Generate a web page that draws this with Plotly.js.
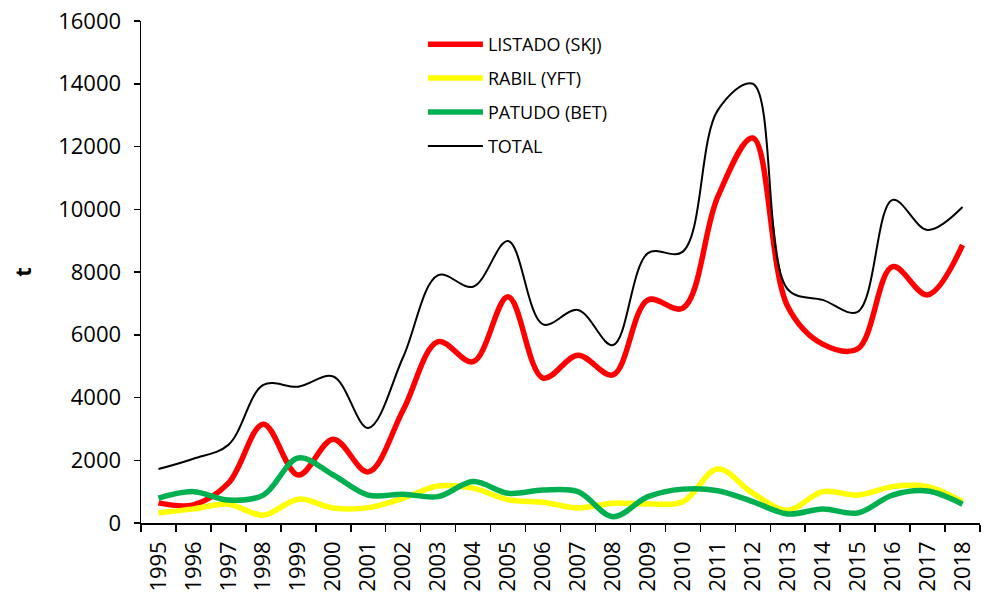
<!DOCTYPE html>
<html>
<head>
<meta charset="utf-8">
<script src="https://cdn.plot.ly/plotly-3.0.1.min.js"></script>
<style>body{margin:0;background:#fff}#chart{width:986px;height:596px}</style>
</head>
<body>
<div id="chart"></div>
<script>
const years = ["1995","1996","1997","1998","1999","2000","2001","2002","2003","2004","2005","2006","2007","2008","2009","2010","2011","2012","2013","2014","2015","2016","2017","2018"];
const listado = [640,580,1270,3150,1530,2670,1630,3600,5780,5140,7210,4620,5350,4720,7110,6850,10400,12270,6900,5700,5550,8170,7270,8860];
const rabil   = [320,450,600,250,760,480,490,790,1180,1110,740,660,480,630,610,680,1720,950,410,1000,890,1160,1160,680];
const patudo  = [790,1000,730,890,2070,1530,890,920,840,1320,950,1050,1000,200,840,1080,1030,680,290,450,320,890,1020,600];
const total   = [1720,2050,2490,4400,4345,4670,3030,5290,7900,7530,8990,6330,6790,5670,8600,8650,13160,14000,7450,7110,6730,10300,9340,10070];
const yTicks = [0,2000,4000,6000,8000,10000,12000,14000,16000];

const font = "Open Sans, Noto Sans, sans-serif";
const mk = (name, y, color, width) => ({
  x: years, y: y, name: name, legendgroup: name, type: "scatter", mode: "lines",
  line: {color: color, width: width, shape: "spline", smoothing: 1}
});
const data = [
  mk("LISTADO (SKJ)", listado, "#ff0000", 5.5),
  mk("RABIL (YFT)", rabil, "#ffff00", 5.5),
  mk("PATUDO (BET)", patudo, "#00b050", 5.5),
  mk("TOTAL", total, "#000000", 2)
];
const layout = {
  width: 986, height: 596,
  margin: {l: 141, r: 6, t: 21, b: 73},
  paper_bgcolor: "#fff", plot_bgcolor: "#fff",
  showlegend: true,
  legend: {x: 0.336, y: 0.99, xanchor: "left", yanchor: "top", bgcolor: "rgba(0,0,0,0)",
           font: {family: font, size: 18, color: "#000"}, itemwidth: 55, tracegroupgap: 7.5},
  xaxis: {
    type: "category", tickson: "boundaries", ticks: "outside", ticklen: 7, tickwidth: 1.5, tickcolor: "#000",
    showline: true, linecolor: "#000", linewidth: 1.5, showgrid: false, zeroline: false,
    tickangle: -90, ticklabelstandoff: 8, tickfont: {family: font, size: 22, color: "#000"}, range: [-0.5, 23.5]
  },
  yaxis: {
    range: [0, 16000], tickvals: yTicks, ticktext: yTicks.map(String), ticks: "outside", ticklen: 6, tickwidth: 1.5,
    tickcolor: "#000", showline: true, linecolor: "#000", linewidth: 1.5, showgrid: false, zeroline: false,
    ticklabelstandoff: 8, tickfont: {family: font, size: 22, color: "#000"},
    title: {text: "<b>t</b>", font: {family: font, size: 22, color: "#000"}, standoff: 20}
  }
};
Plotly.newPlot("chart", data, layout, {displayModeBar: false, staticPlot: true});
</script>
</body>
</html>
